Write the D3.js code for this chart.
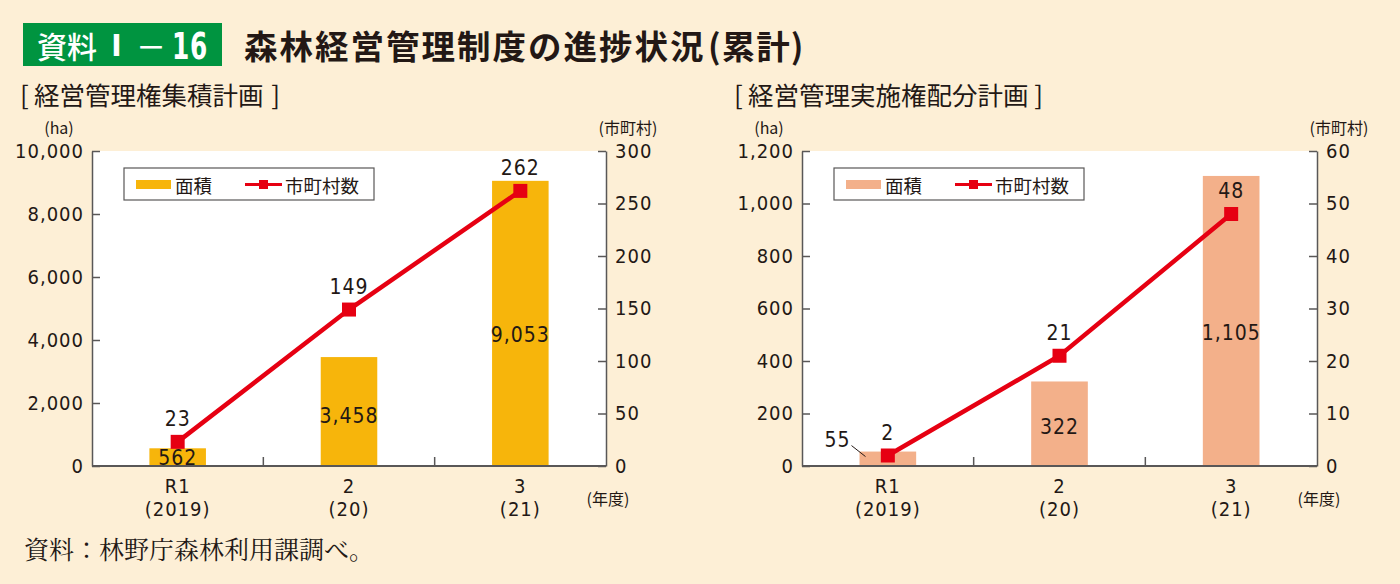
<!DOCTYPE html>
<html><head><meta charset="utf-8">
<script src="https://cdn.jsdelivr.net/npm/d3@7"></script>
<style>
html,body{margin:0;padding:0;background:#fdefd6;}
svg{display:block;}
.num{font-family:"Liberation Sans Narrow","DejaVu Sans Condensed","Liberation Sans",sans-serif;letter-spacing:1px;}
.jp{font-family:"Noto Sans CJK JP","Noto Sans",sans-serif;}
.serif{font-family:"Noto Serif CJK JP","Noto Sans CJK JP",serif;}
</style></head>
<body>
<svg id="chart" width="1400" height="584"></svg>
<script>
// ---- data ----
const categories = ["R1", "2", "3"];
const categorySub = ["(2019)", "(20)", "(21)"];
const areaCollect = [562, 3458, 9053];      // 経営管理権集積計画 面積 (ha)
const muniCollect = [23, 149, 262];         // 市町村数
const areaAllot = [55, 322, 1105];          // 経営管理実施権配分計画 面積 (ha)
const muniAllot = [2, 21, 48];              // 市町村数
const leftTicksA = [0, 2000, 4000, 6000, 8000, 10000];
const rightTicksA = [0, 50, 100, 150, 200, 250, 300];
const leftTicksB = [0, 200, 400, 600, 800, 1000, 1200];
const rightTicksB = [0, 10, 20, 30, 40, 50, 60];
const legendLabels = ["面積", "市町村数"];

const svg = d3.select("#chart");
const fmt = d3.format(",");
const TXT = "#231815", AXIS = "#595757", RED = "#e60012";

function t(x, y, s, size, cls, opts = {}) {
  const e = svg.append("text").attr("class", cls).attr("x", x).attr("y", y)
    .attr("dominant-baseline", "central").attr("font-size", size).attr("fill", opts.fill || TXT)
    .attr("text-anchor", opts.anchor || "start").text(s);
  if (opts.weight) e.attr("font-weight", opts.weight);
  if (opts.ls !== undefined) e.attr("letter-spacing", opts.ls);
  if (opts.len) e.attr("textLength", opts.len).attr("lengthAdjust", "spacingAndGlyphs");
  return e;
}

// ---- title ----
svg.append("rect").attr("x", 23).attr("y", 23).attr("width", 199).attr("height", 43).attr("fill", "#009440");
t(37, 45, "資料", 30, "jp", {fill: "#fff", weight: 500, ls: 0});
t(117, 45, "I", 31, "num", {fill: "#fff", anchor: "middle", weight: 700});
t(151, 45, "－", 30, "jp", {fill: "#fff", anchor: "middle", weight: 500});
t(172, 46, "16", 38, "num", {fill: "#fff", len: 36, weight: 700});
t(244, 44, "森林経営管理制度の進捗状況", 33.5, "jp", {weight: 700, ls: 2});
t(708, 44, "(累計)", 33.5, "jp", {weight: 700, ls: 1});
// subtitles
t(20, 93, "[", 26, "jp");
t(34, 93, "経営管理権集積計画", 25.5, "jp", {ls: 0});
t(280, 93, "]", 26, "jp", {anchor: "end"});
t(734, 93, "[", 26, "jp");
t(748, 93, "経営管理実施権配分計画", 25.5, "jp", {ls: 0});
t(1043, 93, "]", 26, "jp", {anchor: "end"});
// source
t(24, 548, "資料：林野庁森林利用課調べ。", 25, "serif");

function drawChart(cfg) {
  const x0 = cfg.x0, x1 = cfg.x1, y0 = 151, y1 = 466;
  const g = svg.append("g");
  g.append("rect").attr("x", x0).attr("y", y0).attr("width", x1 - x0).attr("height", y1 - y0).attr("fill", "#ffffff");

  const x = d3.scalePoint().domain(categories).range([x0, x1]).padding(0.5);
  const step = x.step();
  const yL = d3.scaleLinear().domain([0, d3.max(cfg.leftTicks)]).range([y1, y0]);
  const yR = d3.scaleLinear().domain([0, d3.max(cfg.rightTicks)]).range([y1, y0]);
  const bw = step * 0.33;

  // bars
  g.selectAll(".bar").data(cfg.area).enter().append("rect")
    .attr("x", (d, i) => x(categories[i]) - bw / 2).attr("y", d => yL(d))
    .attr("width", bw).attr("height", d => y1 - yL(d)).attr("fill", cfg.barColor);

  // axes
  const aL = g.append("g").attr("transform", `translate(${x0},0)`)
    .call(d3.axisLeft(yL).tickValues(cfg.leftTicks).tickFormat(fmt).tickSizeInner(-8).tickSizeOuter(0).tickPadding(8));
  const aR = g.append("g").attr("transform", `translate(${x1},0)`)
    .call(d3.axisRight(yR).tickValues(cfg.rightTicks).tickFormat(fmt).tickSizeInner(-8).tickSizeOuter(0).tickPadding(9));
  [aL, aR].forEach(a => {
    a.selectAll("path,line").attr("stroke", AXIS).attr("stroke-width", 1.5);
    a.selectAll("text").attr("class", "num").attr("font-size", 20).attr("fill", TXT);
  });
  // x axis baseline and separators
  g.append("line").attr("x1", x0).attr("x2", x1).attr("y1", y1).attr("y2", y1).attr("stroke", AXIS).attr("stroke-width", 2);
  categories.slice(1).forEach(c => {
    const sx = x(c) - step / 2;
    g.append("line").attr("x1", sx).attr("x2", sx).attr("y1", y1).attr("y2", y1 - 9).attr("stroke", AXIS).attr("stroke-width", 1.5);
  });
  categories.forEach((c, i) => {
    g.append("text").attr("class", "num").attr("x", x(c)).attr("y", 486).attr("text-anchor", "middle")
      .attr("dominant-baseline", "central").attr("font-size", 20).attr("fill", TXT).text(c);
    g.append("text").attr("class", "num").attr("x", x(c)).attr("y", 509).attr("text-anchor", "middle")
      .attr("dominant-baseline", "central").attr("font-size", 20).attr("fill", TXT).text(categorySub[i]);
  });
  // unit labels
  g.append("text").attr("class", "jp").attr("x", x0 - 33).attr("y", 127).attr("text-anchor", "middle")
    .attr("dominant-baseline", "central").attr("font-size", 16).attr("fill", TXT).text("(ha)");
  g.append("text").attr("class", "jp").attr("x", x1 + 22).attr("y", 127).attr("text-anchor", "middle")
    .attr("dominant-baseline", "central").attr("font-size", 16).attr("fill", TXT).text("(市町村)");
  g.append("text").attr("class", "jp").attr("x", x1 + 2).attr("y", 498).attr("text-anchor", "middle")
    .attr("dominant-baseline", "central").attr("font-size", 16).attr("fill", TXT).text("(年度)");

  // bar value labels
  cfg.area.forEach((v, i) => {
    const cx = x(categories[i]);
    if (cfg.outside[i]) {
      const bl = cx - bw / 2;
      g.append("text").attr("class", "num").attr("x", bl - 22).attr("y", yL(v) - 12).attr("text-anchor", "middle")
        .attr("dominant-baseline", "central").attr("font-size", 21).attr("fill", TXT).text(fmt(v));
      g.append("line").attr("x1", bl - 8).attr("y1", yL(v) - 6).attr("x2", bl + 6).attr("y2", yL(v) + 5)
        .attr("stroke", TXT).attr("stroke-width", 1);
    } else {
      g.append("text").attr("class", "num").attr("x", cx).attr("y", yL(v * 0.46)).attr("text-anchor", "middle")
        .attr("dominant-baseline", "central").attr("font-size", 21).attr("fill", TXT).text(fmt(v));
    }
  });

  // line
  const line = d3.line().x((d, i) => x(categories[i])).y(d => yR(d));
  g.append("path").datum(cfg.muni).attr("d", line).attr("fill", "none").attr("stroke", RED).attr("stroke-width", 4.5);
  g.selectAll(".mk").data(cfg.muni).enter().append("rect")
    .attr("x", (d, i) => x(categories[i]) - 7).attr("y", d => yR(d) - 7).attr("width", 14).attr("height", 14).attr("fill", RED);
  cfg.muni.forEach((v, i) => {
    g.append("text").attr("class", "num").attr("x", x(categories[i])).attr("y", yR(v) - 23).attr("text-anchor", "middle")
      .attr("dominant-baseline", "central").attr("font-size", 21).attr("fill", TXT).text(fmt(v));
  });

  // legend
  const lx = x0 + 32, ly = 168;
  const lg = g.append("g").attr("transform", `translate(${lx},${ly})`);
  lg.append("rect").attr("x", 0).attr("y", 0).attr("width", 250).attr("height", 32).attr("fill", "#fff").attr("stroke", AXIS).attr("stroke-width", 1.2);
  lg.append("rect").attr("x", 12).attr("y", 12).attr("width", 35).attr("height", 9).attr("fill", cfg.barColor);
  lg.append("text").attr("class", "jp").attr("x", 51).attr("y", 16.5).attr("dominant-baseline", "central").attr("font-size", 18.5).attr("fill", TXT).text(legendLabels[0]);
  lg.append("line").attr("x1", 121).attr("x2", 158).attr("y1", 16.5).attr("y2", 16.5).attr("stroke", RED).attr("stroke-width", 3);
  lg.append("rect").attr("x", 135).attr("y", 12).attr("width", 9).attr("height", 9).attr("fill", RED);
  lg.append("text").attr("class", "jp").attr("x", 161).attr("y", 16.5).attr("dominant-baseline", "central").attr("font-size", 18.5).attr("fill", TXT).text(legendLabels[1]);
}

drawChart({x0: 92, x1: 606, area: areaCollect, muni: muniCollect, leftTicks: leftTicksA, rightTicks: rightTicksA,
  barColor: "#f7b50b", outside: [false, false, false]});
drawChart({x0: 802, x1: 1317, area: areaAllot, muni: muniAllot, leftTicks: leftTicksB, rightTicks: rightTicksB,
  barColor: "#f3b08a", outside: [true, false, false]});
</script>
</body></html>
